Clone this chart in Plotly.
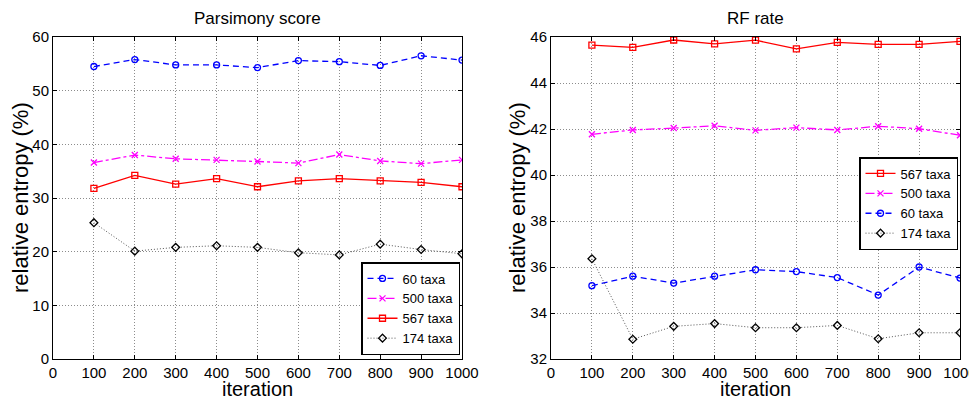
import plotly.graph_objects as go

iterations = [100, 200, 300, 400, 500, 600, 700, 800, 900, 1000]

# Parsimony score panel
pars_60 = [54.5, 55.8, 54.8, 54.8, 54.3, 55.6, 55.4, 54.7, 56.5, 55.7]
pars_500 = [36.6, 38.0, 37.3, 37.1, 36.8, 36.5, 38.1, 36.9, 36.4, 37.1]
pars_567 = [31.8, 34.2, 32.6, 33.6, 32.1, 33.2, 33.6, 33.2, 32.9, 32.1]
pars_174 = [25.4, 20.1, 20.8, 21.1, 20.8, 19.8, 19.4, 21.4, 20.4, 19.6]

# RF rate panel
rf_567 = [45.65, 45.55, 45.87, 45.70, 45.86, 45.48, 45.77, 45.68, 45.68, 45.81]
rf_500 = [41.77, 41.96, 42.04, 42.14, 41.94, 42.06, 41.96, 42.12, 42.01, 41.73]
rf_60 = [35.19, 35.60, 35.30, 35.60, 35.88, 35.80, 35.54, 34.78, 36.00, 35.52]
rf_174 = [36.36, 32.86, 33.42, 33.54, 33.36, 33.36, 33.46, 32.88, 33.14, 33.14]

x_ticks = [0, 100, 200, 300, 400, 500, 600, 700, 800, 900, 1000]
pars_yticks = [0, 10, 20, 30, 40, 50, 60]
rf_yticks = [32, 34, 36, 38, 40, 42, 44, 46]

FONT = "Liberation Sans, Arial, Helvetica, sans-serif"

styles = {
    "60 taxa": dict(color="#0000ff", dash="6px,4px", symbol="circle-open", lw=1.3),
    "500 taxa": dict(color="#ff00ff", dash="dashdot", symbol="x-thin-open", lw=1.3),
    "567 taxa": dict(color="#ff0000", dash="solid", symbol="square-open", lw=1.3),
    "174 taxa": dict(color="#000000", dash="1px,2px", symbol="diamond-open", lw=1.0),
}

fig = go.Figure()


def add(name, y, xa, ya, legend):
    s = styles[name]
    line_color = "#555555" if name == "174 taxa" else s["color"]
    fig.add_trace(go.Scatter(
        x=iterations, y=y, name=name, mode="lines+markers",
        xaxis=xa, yaxis=ya, legend=legend,
        line=dict(color=line_color, dash=s["dash"], width=s["lw"]),
        marker=dict(symbol=s["symbol"], size=6, color=s["color"],
                    line=dict(color=s["color"], width=1.3)),
    ))


add("60 taxa", pars_60, "x", "y", "legend")
add("500 taxa", pars_500, "x", "y", "legend")
add("567 taxa", pars_567, "x", "y", "legend")
add("174 taxa", pars_174, "x", "y", "legend")

add("567 taxa", rf_567, "x2", "y2", "legend2")
add("500 taxa", rf_500, "x2", "y2", "legend2")
add("60 taxa", rf_60, "x2", "y2", "legend2")
add("174 taxa", rf_174, "x2", "y2", "legend2")

# page body has an 8px margin, so the figure starts at (8, 8) in the window
OFF = 8
W, H = 977 - OFF, 396 - OFF
ML, MT = 53 - OFF, 37 - OFF
MR, MB = W - (960 - OFF), H - (359 - OFF)
PW, PH = W - ML - MR, H - MT - MB


def px_x(p):
    return (p - OFF - ML) / PW


def px_y(p):
    return 1 - (p - OFF - MT) / PH


axis_common = dict(
    showline=True, linecolor="black", linewidth=1, mirror="ticks",
    ticks="inside", ticklen=4, tickcolor="black",
    showgrid=True, gridcolor="#8c8c8c", griddash="1px,2px", gridwidth=1,
    zeroline=False, automargin=False,
    tickfont=dict(family=FONT, size=15, color="black"),
)


def label(text, x, y, size, angle=0):
    return dict(text=text, x=px_x(x), y=px_y(y), xref="paper", yref="paper",
                showarrow=False, textangle=angle, xanchor="center", yanchor="middle",
                font=dict(family=FONT, size=size, color="black"))


fig.update_layout(
    width=W, height=H,
    margin=dict(l=ML, r=MR, t=MT, b=MB),
    paper_bgcolor="white", plot_bgcolor="white",
    font=dict(family=FONT, color="black"),
    xaxis=dict(domain=[0, px_x(462)], range=[0, 1000], tickvals=x_ticks, anchor="y", **axis_common),
    yaxis=dict(domain=[0, 1], range=[0, 60], tickvals=pars_yticks, anchor="x", **axis_common),
    xaxis2=dict(domain=[px_x(551), 1], range=[0, 1000], tickvals=x_ticks, anchor="y2", **axis_common),
    yaxis2=dict(domain=[0, 1], range=[32, 46], tickvals=rf_yticks, anchor="x2", **axis_common),
    legend=dict(x=px_x(361), y=px_y(355), xanchor="left", yanchor="bottom",
                bgcolor="white", bordercolor="black", borderwidth=1.5,
                font=dict(family=FONT, size=13), tracegroupgap=0, itemwidth=30),
    legend2=dict(x=px_x(859), y=px_y(157), xanchor="left", yanchor="top",
                 bgcolor="white", bordercolor="black", borderwidth=1.5,
                 font=dict(family=FONT, size=13), tracegroupgap=0, itemwidth=30),
    annotations=[
        label("Parsimony score", (53 + 462) / 2, 18, 17),
        label("RF rate", (551 + 960) / 2, 18, 17),
        label("iteration", (53 + 462) / 2, 389, 20),
        label("iteration", (551 + 960) / 2, 389, 20),
        label("relative entropy (%)", 20, 198, 22, -90),
        label("relative entropy (%)", 517, 198, 22, -90),
    ],
)

fig.write_html("out.html")
